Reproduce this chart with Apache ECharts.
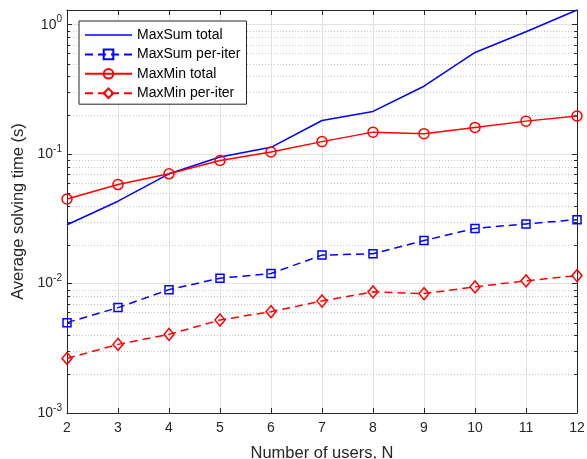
<!DOCTYPE html>
<html><head><meta charset="utf-8">
<script src="https://cdn.jsdelivr.net/npm/echarts@6/dist/echarts.min.js"></script>
<style>html,body{margin:0;padding:0;background:#fff}#c{width:587px;height:459px}</style>
</head><body><div id="c"></div>
<script>
const users = [2, 3, 4, 5, 6, 7, 8, 9, 10, 11, 12];
const maxSumTotal   = [0.0285, 0.0433, 0.0705, 0.095, 0.113, 0.182, 0.214, 0.335, 0.611, 0.883, 1.30];
const maxSumPerIter = [0.00499, 0.00652, 0.00898, 0.0110, 0.01195, 0.0166, 0.0170, 0.0215, 0.0267, 0.0289, 0.0312];
const maxMinTotal   = [0.045, 0.0582, 0.0705, 0.0893, 0.104, 0.125, 0.148, 0.144, 0.161, 0.180, 0.197];
const maxMinPerIter = [0.00264, 0.00339, 0.00405, 0.00523, 0.00607, 0.00734, 0.00863, 0.00837, 0.00943, 0.0105, 0.01153];
const seriesNames = ['MaxSum total', 'MaxSum per-iter', 'MaxMin total', 'MaxMin per-iter'];
const yMin = 0.001, yMax = 1.3;
const xMin = 2, xMax = 12;

// minor log gridline positions (2..9 x 10^k)
const minorVals = [];
for (let e = -3; e <= 0; e++) {
  for (let m = 2; m <= 9; m++) {
    const v = m * Math.pow(10, e);
    if (v < yMax) minorVals.push(v);
  }
}

const axisColor = '#262626';
const FONT = 'Liberation Sans';
const pair = arr => users.map((u, i) => [u, arr[i]]);

function yLabel(v) {
  const l = Math.log10(v);
  const r = Math.round(l);
  if (Math.abs(l - r) > 1e-6) return '';
  return '{b|10}{s|' + r + '}';
}

const chart = echarts.init(document.getElementById('c'), null, {renderer: 'canvas'});
chart.setOption({
  animation: false,
  backgroundColor: '#fff',
  grid: {left: 67, right: 10, top: 10, bottom: 46, containLabel: false, outerBoundsMode: 'none'},
  legend: {
    data: [
      {name: seriesNames[0], icon: 'path://M0,0H47V1.5H0Z'},
      {name: seriesNames[1]},
      {name: seriesNames[2]},
      {name: seriesNames[3]}
    ],
    orient: 'vertical',
    left: 79, top: 21,
    itemWidth: 47, itemHeight: 12, itemGap: 5.4,
    padding: [7, 6, 4, 5],
    borderColor: axisColor, borderWidth: 1,
    backgroundColor: '#fff',
    textStyle: {fontFamily: FONT, fontSize: 14, color: '#000'}
  },
  xAxis: [{
    type: 'value', min: xMin, max: xMax, interval: 1,
    name: 'Number of users, N', nameLocation: 'middle', nameGap: 32,
    nameTextStyle: {fontFamily: FONT, fontSize: 16.5, color: axisColor},
    axisLine: {lineStyle: {color: axisColor, width: 1}},
    axisTick: {inside: true, length: 5, lineStyle: {color: axisColor}},
    axisLabel: {fontFamily: FONT, fontSize: 14, color: axisColor, margin: 8},
    splitLine: {show: true, lineStyle: {color: '#e3e3e3', width: 1}}
  }, {
    type: 'value', min: xMin, max: xMax, interval: 1, position: 'top',
    axisLine: {lineStyle: {color: axisColor, width: 1}},
    axisTick: {inside: true, length: 5, lineStyle: {color: axisColor}},
    axisLabel: {show: false}, splitLine: {show: false}
  }],
  yAxis: [{
    type: 'log', logBase: 10, min: yMin, max: yMax,
    name: 'Average solving time (s)', nameLocation: 'middle', nameGap: 39,
    nameTextStyle: {fontFamily: FONT, fontSize: 16.5, color: axisColor},
    axisLine: {show: true, lineStyle: {color: axisColor, width: 1}},
    axisTick: {inside: true, length: 5, lineStyle: {color: axisColor}},
    axisLabel: {
      formatter: yLabel, margin: 5,
      rich: {
        b: {fontFamily: FONT, fontSize: 14, color: axisColor},
        s: {fontFamily: FONT, fontSize: 10, color: axisColor, padding: [0, 0, 10, 0]}
      }
    },
    splitLine: {show: true, lineStyle: {color: '#e3e3e3', width: 1}}
  }, {
    type: 'log', logBase: 10, min: yMin, max: yMax, position: 'right',
    axisLine: {show: true, lineStyle: {color: axisColor, width: 1}},
    axisTick: {inside: true, length: 5, lineStyle: {color: axisColor}},
    axisLabel: {show: false}, splitLine: {show: false}
  }],
  series: [
    {
      type: 'custom', name: 'minorGrid', silent: true, z: 1,
      xAxisIndex: 0, yAxisIndex: 0,
      data: minorVals.map(v => [xMin, v]),
      renderItem: function (params, api) {
        const v = api.value(1);
        const p1 = api.coord([xMin, v]);
        const p2 = api.coord([xMax, v]);
        const y = Math.round(p1[1]) + 0.5;
        return {type: 'group', children: [
          {type: 'line', shape: {x1: p1[0], y1: y, x2: p2[0], y2: y},
           style: {stroke: '#c4c4c4', lineWidth: 1, lineDash: [1, 2]}},
          {type: 'line', shape: {x1: p1[0], y1: y, x2: p1[0] + 3, y2: y},
           style: {stroke: axisColor, lineWidth: 1}},
          {type: 'line', shape: {x1: p2[0] - 3, y1: y, x2: p2[0], y2: y},
           style: {stroke: axisColor, lineWidth: 1}}
        ]};
      }
    },
    {
      name: seriesNames[0], type: 'line', data: pair(maxSumTotal), z: 5,
      symbol: 'none', color: '#0000ff',
      lineStyle: {color: '#0000ff', width: 1.5, type: 'solid'}
    },
    {
      name: seriesNames[1], type: 'line', data: pair(maxSumPerIter), z: 5,
      symbol: 'rect', symbolSize: 8, color: '#0000ff',
      itemStyle: {color: 'rgba(0,0,0,0)', borderColor: '#0000ff', borderWidth: 1.5},
      lineStyle: {color: '#0000ff', width: 1.5, type: [8, 5]}
    },
    {
      name: seriesNames[2], type: 'line', data: pair(maxMinTotal), z: 5,
      symbol: 'circle', symbolSize: 10, color: '#ff0000',
      itemStyle: {color: 'rgba(0,0,0,0)', borderColor: '#ff0000', borderWidth: 1.5},
      lineStyle: {color: '#ff0000', width: 1.5, type: 'solid'}
    },
    {
      name: seriesNames[3], type: 'line', data: pair(maxMinPerIter), z: 5,
      symbol: 'diamond', symbolSize: [10, 12], color: '#ff0000',
      itemStyle: {color: 'rgba(0,0,0,0)', borderColor: '#ff0000', borderWidth: 1.5},
      lineStyle: {color: '#ff0000', width: 1.5, type: [8, 5]}
    }
  ]
});
</script></body></html>
